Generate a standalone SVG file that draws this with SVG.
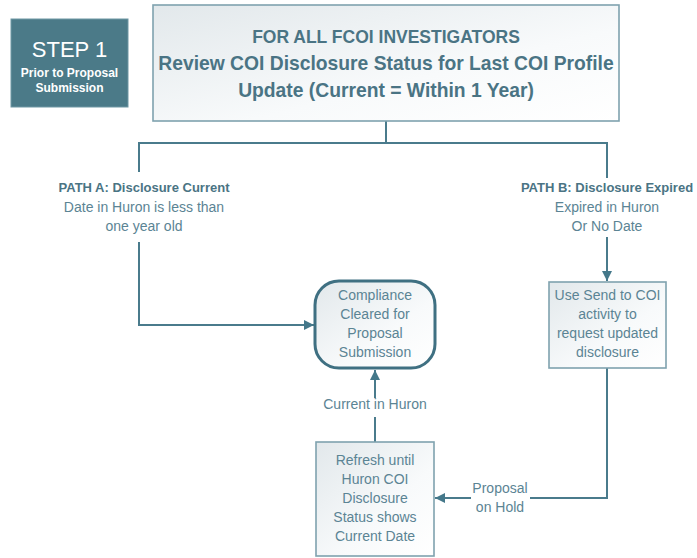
<svg xmlns="http://www.w3.org/2000/svg" width="697" height="558" viewBox="0 0 697 558">
  <defs>
    <linearGradient id="boxFill" x1="0" y1="0" x2="1" y2="1">
      <stop offset="0" stop-color="#e2e8eb"/>
      <stop offset="0.6" stop-color="#f8fafb"/>
      <stop offset="1" stop-color="#ffffff"/>
    </linearGradient>
    <marker id="arrow" viewBox="0 0 10 10" refX="10" refY="5" markerWidth="10" markerHeight="10" markerUnits="userSpaceOnUse" orient="auto">
      <path d="M0,0 L10,5 L0,10 Z" fill="#44788a"/>
    </marker>
    <style>
      .box { fill: url(#boxFill); stroke: #7fa2ae; stroke-width: 1.6; }
      .terminal { fill: url(#boxFill); stroke: #3f7082; stroke-width: 3; }
      .wire { fill: none; stroke: #4a7b8c; stroke-width: 2; }
      .title { font-family: "Liberation Sans", Arial, sans-serif; font-weight: bold; fill: #4a7484; text-anchor: middle; }
      .body { font-family: "Liberation Sans", Arial, sans-serif; font-size: 14px; fill: #5b8494; text-anchor: middle; }
      .pathhead { font-family: "Liberation Sans", Arial, sans-serif; font-size: 13px; font-weight: bold; fill: #4a7484; text-anchor: middle; }
      .step { font-family: "Liberation Sans", Arial, sans-serif; fill: #ffffff; text-anchor: middle; }
    </style>
  </defs>

  <!-- step badge -->
  <g id="step1">
    <rect x="11" y="19" width="117" height="88" fill="#4b7a88" stroke="#6f97a4" stroke-width="1"/>
    <text class="step" x="69.5" y="57" font-size="22">STEP 1</text>
    <text class="step" x="69.5" y="77" font-size="12" font-weight="bold">Prior to Proposal</text>
    <text class="step" x="69.5" y="92" font-size="12" font-weight="bold">Submission</text>
  </g>

  <!-- connectors -->
  <g id="connectors">
    <path class="wire" d="M386,121 V143"/>
    <path class="wire" d="M139,172 V143 H607 V178"/>
    <path class="wire" d="M139,242 V325 H314" marker-end="url(#arrow)"/>
    <path class="wire" d="M607,237 V281" marker-end="url(#arrow)"/>
    <path class="wire" d="M607,368 V498 H530"/>
    <path class="wire" d="M471,498 H435" marker-end="url(#arrow)"/>
    <path class="wire" d="M375,442 V417"/>
    <path class="wire" d="M375,398 V370" marker-end="url(#arrow)"/>
  </g>

  <!-- main question -->
  <g id="review">
    <rect class="box" x="153" y="5" width="466" height="116"/>
    <text class="title" x="386" y="43" font-size="17.5">FOR ALL FCOI INVESTIGATORS</text>
    <text class="title" x="386" y="70" font-size="19.3">Review COI Disclosure Status for Last COI Profile</text>
    <text class="title" x="386" y="97" font-size="19.3">Update (Current = Within 1 Year)</text>
  </g>

  <!-- branch labels -->
  <g id="pathA">
    <text class="pathhead" x="144" y="192">PATH A: Disclosure Current</text>
    <text class="body" x="144" y="212">Date in Huron is less than</text>
    <text class="body" x="144" y="231">one year old</text>
  </g>
  <g id="pathB">
    <text class="pathhead" x="607" y="192">PATH B: Disclosure Expired</text>
    <text class="body" x="607" y="212">Expired in Huron</text>
    <text class="body" x="607" y="231">Or No Date</text>
  </g>

  <!-- outcome -->
  <g id="cleared">
    <rect class="terminal" x="315" y="281" width="120" height="87" rx="24" ry="24"/>
    <text class="body" x="375" y="300">Compliance</text>
    <text class="body" x="375" y="319">Cleared for</text>
    <text class="body" x="375" y="338">Proposal</text>
    <text class="body" x="375" y="357">Submission</text>
  </g>

  <g id="sendToCoi">
    <rect class="box" x="549" y="282" width="117" height="86"/>
    <text class="body" x="607.5" y="300">Use Send to COI</text>
    <text class="body" x="607.5" y="319">activity to</text>
    <text class="body" x="607.5" y="338">request updated</text>
    <text class="body" x="607.5" y="357">disclosure</text>
  </g>

  <g id="refresh">
    <rect class="box" x="316" y="442" width="118" height="114"/>
    <text class="body" x="375" y="465">Refresh until</text>
    <text class="body" x="375" y="484">Huron COI</text>
    <text class="body" x="375" y="503">Disclosure</text>
    <text class="body" x="375" y="522">Status shows</text>
    <text class="body" x="375" y="541">Current Date</text>
  </g>

  <!-- edge labels -->
  <g id="edgeLabels">
    <text class="body" x="375" y="409">Current in Huron</text>
    <text class="body" x="500" y="493">Proposal</text>
    <text class="body" x="500" y="512">on Hold</text>
  </g>
</svg>
